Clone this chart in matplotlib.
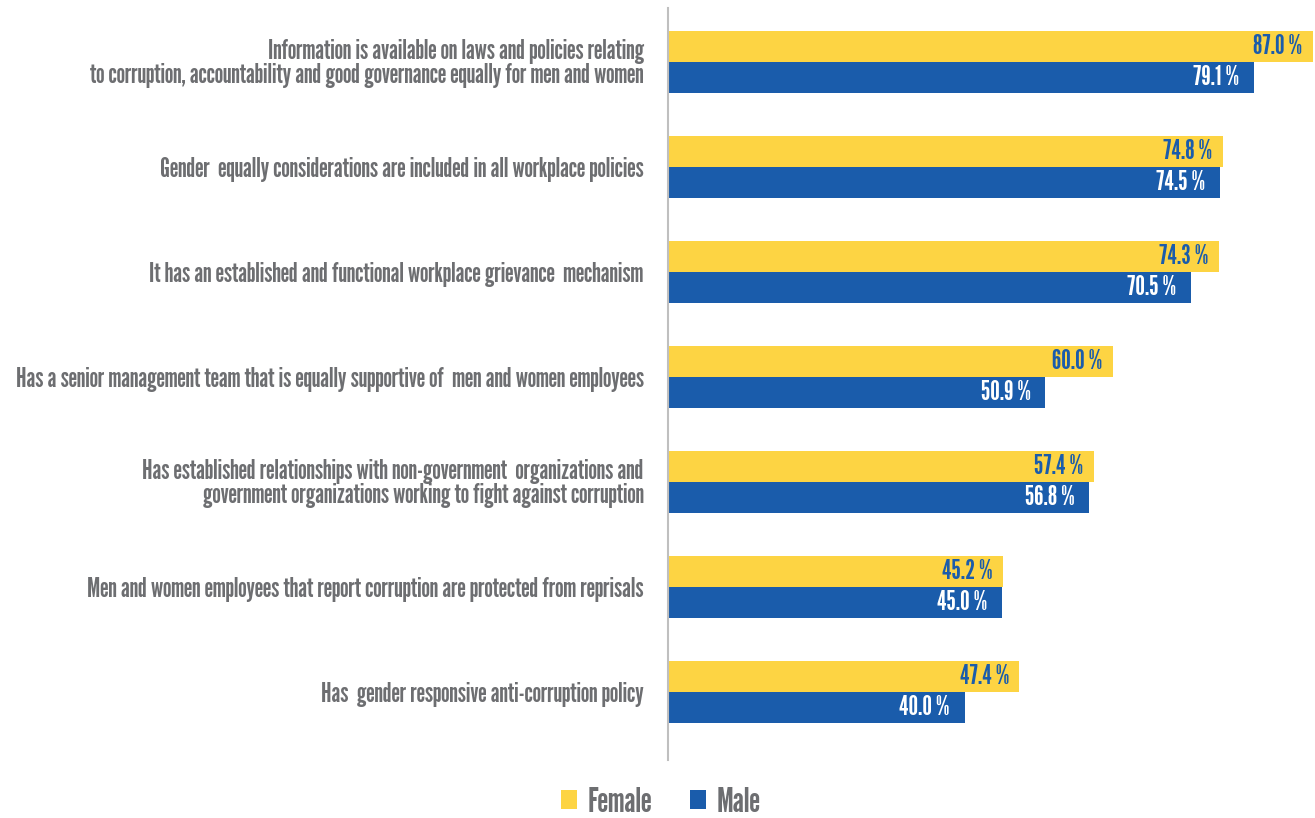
import matplotlib.pyplot as plt
import numpy as np

plt.rcParams['font.family'] = ['League Gothic', 'DejaVu Sans']

statements = [
    'Information is available on laws and policies relating\nto corruption, accountability and good governance equally for men and women',
    'Gender  equally considerations are included in all workplace policies',
    'It has an established and functional workplace grievance  mechanism',
    'Has a senior management team that is equally supportive of  men and women employees',
    'Has established relationships with non-government  organizations and\ngovernment organizations working to fight against corruption',
    'Men and women employees that report corruption are protected from reprisals',
    'Has  gender responsive anti-corruption policy',
]
female = [87.0, 74.8, 74.3, 60.0, 57.4, 45.2, 47.4]
male = [79.1, 74.5, 70.5, 50.9, 56.8, 45.0, 40.0]

yellow = '#fdd443'
blue = '#1a5cab'
grey = '#6d6e71'

fig = plt.figure(figsize=(13.15, 8.18), dpi=100)
ax = fig.add_axes([668/1315, 1 - 760/818, (1313 - 668)/1315, (760 - 8)/818])

y = np.arange(len(statements))
h = 0.295
ax.barh(y - h/2, female, height=h, color=yellow, label='Female')
ax.barh(y + h/2, male, height=h, color=blue, label='Male')

# value labels sit just inside the end of each bar
for yi, f, m in zip(y, female, male):
    ax.text(f - 1.4, yi - h/2, '%.1f %%' % f, ha='right', va='center',
            color=blue, fontsize=19.5)
    ax.text(m - 2.0, yi + h/2, '%.1f %%' % m, ha='right', va='center',
            color='white', fontsize=19.5)

ax.set_xlim(0, 87.0)
ax.set_ylim(6.65, -0.51)
ax.set_yticks(y)
ax.set_yticklabels(statements, fontsize=19.7, color=grey, ha='right', linespacing=0.95)
ax.tick_params(axis='y', length=0, pad=17.5)
ax.set_xticks([])
for s in ['top', 'right', 'bottom']:
    ax.spines[s].set_visible(False)
ax.spines['left'].set_color('#bfbfbf')
ax.spines['left'].set_linewidth(1.5)

leg = fig.legend(loc='center', bbox_to_anchor=(661/1315, 1 - 802/818), ncol=2,
                 frameon=False, fontsize=25, handlelength=0.46, handleheight=0.46,
                 columnspacing=1.1, handletextpad=0.3)
for t in leg.get_texts():
    t.set_color(grey)

fig.savefig('out.png', dpi=100)
